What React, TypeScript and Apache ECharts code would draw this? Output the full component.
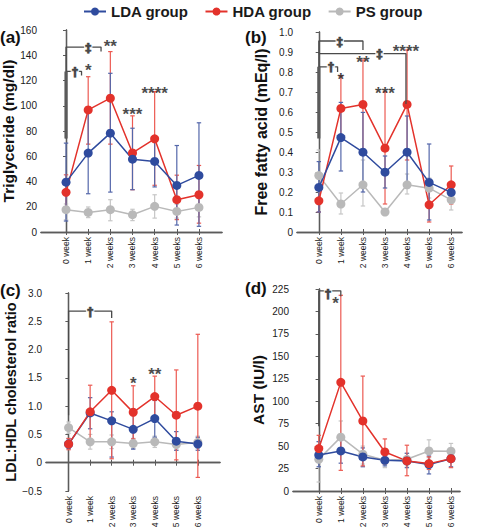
import React, { useEffect, useRef } from "react";
import * as echarts from "echarts";

const weeks = ["0 week", "1 week", "2 weeks", "3 weeks", "4 weeks", "5 weeks", "6 weeks"];
const weekIdx = [0, 1, 2, 3, 4, 5, 6];

// (a) Triglyceride (mg/dl)
const tgLDA = [39.5, 62.5, 78.3, 57.7, 55.9, 36.9, 44.8];
const tgLDALo = [8.7, 30.3, 31.6, 33.5, 35.7, 5.5, 4.5];
const tgLDAHi = [70.4, 94.5, 125.7, 82.2, 76, 68.5, 86.5];
const tgHDA = [31.4, 96.7, 106, 62.6, 73.8, 25.6, 29.5];
const tgHDALo = [17.5, 69.6, 69.6, 33.5, 37, 9.8, 7];
const tgHDAHi = [45.3, 123, 142.9, 92, 111.2, 45, 52.7];
const tgPS = [17.7, 15.5, 17.7, 13.7, 20.3, 16.3, 19.5];
const tgPSLo = [9.7, 11.4, 8.9, 9, 11, 11, 12];
const tgPSHi = [22.2, 19.8, 25.6, 18, 29.5, 22, 27];

// (b) Free fatty acid (mEq/l)
const ffaLDA = [0.223, 0.472, 0.399, 0.299, 0.399, 0.248, 0.198];
const ffaLDALo = [0.1, 0.305, 0.2, 0.22, 0.22, 0.06, 0.17];
const ffaLDAHi = [0.352, 0.648, 0.598, 0.38, 0.58, 0.44, 0.23];
const ffaHDA = [0.156, 0.618, 0.638, 0.419, 0.638, 0.136, 0.236];
const ffaHDALo = [0.1, 0.46, 0.41, 0.14, 0.36, 0.05, 0.14];
const ffaHDAHi = [0.21, 0.78, 0.86, 0.7, 0.91, 0.22, 0.33];
const ffaPS = [0.282, 0.14, 0.236, 0.1, 0.236, 0.219, 0.161];
const ffaPSLo = [0.15, 0.09, 0.13, 0.09, 0.19, 0.17, 0.11];
const ffaPSHi = [0.41, 0.195, 0.36, 0.11, 0.29, 0.27, 0.2];

// (c) LDL:HDL cholesterol ratio
const ldlLDA = [0.33, 0.88, 0.74, 0.59, 0.78, 0.38, 0.33];
const ldlLDALo = [0.25, 0.6, 0.1, 0.24, 0.45, 0.22, 0.22];
const ldlLDAHi = [0.42, 1.15, 0.9, 0.95, 1.1, 0.55, 0.45];
const ldlHDA = [0.33, 0.9, 1.28, 0.89, 1.17, 0.84, 1.0];
const ldlHDALo = [0.23, 0.42, 0.07, 0.42, 0.8, 0.05, -0.26];
const ldlHDAHi = [0.43, 1.37, 2.49, 1.36, 1.53, 1.64, 2.27];
const ldlPS = [0.62, 0.37, 0.37, 0.34, 0.37, 0.32, 0.36];
const ldlPSLo = [0.52, 0.24, 0.25, 0.25, 0.27, 0.22, 0.25];
const ldlPSHi = [0.72, 0.5, 0.49, 0.43, 0.47, 0.42, 0.47];

// (d) AST (IU/l)
const astLDA = [40, 44.6, 37.9, 34.2, 33.5, 29.4, 36];
const astLDALo = [27, 31, 27, 28, 26, 19, 27];
const astLDAHi = [55, 58, 48, 40, 42, 39, 45];
const astHDA = [47.2, 121, 78, 43.5, 33.5, 30.5, 36];
const astHDALo = [33, 23, 28, 30, 17, 24, 26];
const astHDAHi = [62, 218, 128, 58, 51, 38, 46];
const astPS = [35.3, 60, 41, 34.2, 35.3, 44.6, 44.3];
const astPSLo = [10, 42, 30, 26, 28, 37, 36];
const astPSHi = [55, 78, 50, 42, 42, 57, 53];

// significance brackets (x = week index, y = value)
const tgBrackets = [
  [[0, 74], [0, 146.5], [1.58, 146.5], [1.58, 143]],
  [[0, 127.2], [0.7, 127.2], [0.7, 124]],
];
const tgThick = [[[0, 74], [0, 127.2]]];
const tgNotes: [string, number, number][] = [
  ["‡", 1.0, 146.5], ["†", 0.4, 127.2], ["*", 1.0, 132], ["**", 2.0, 151],
  ["***", 3.0, 96.7], ["****", 4.0, 113.8],
];

const ffaBrackets = [
  [[0, 0.47], [0, 0.955], [2, 0.955], [2, 0.91]],
  [[0, 0.892], [3.95, 0.892], [3.95, 0.64]],
  [[0, 0.826], [0.85, 0.826], [0.85, 0.8]],
];
const ffaThick = [[[0, 0.468], [0, 0.826]]];
const ffaNotes: [string, number, number][] = [
  ["‡", 0.95, 0.955], ["‡", 2.75, 0.892], ["†", 0.55, 0.826], ["*", 1.0, 0.79],
  ["**", 2.0, 0.872], ["***", 3.0, 0.718], ["****", 3.95, 0.93],
];

const ldlBrackets = [[[0, 0.84], [0, 2.68], [2, 2.68], [2, 2.56]]];
const ldlThick: number[][][] = [];
const ldlNotes: [string, number, number][] = [
  ["†", 1.0, 2.68], ["*", 3.0, 1.49], ["**", 4.0, 1.65],
];

const astBrackets = [[[0, 72], [0, 223], [1, 223], [1, 217]]];
const astThick: number[][][] = [];
const astNotes: [string, number, number][] = [
  ["†", 0.42, 220], ["*", 0.76, 214.5],
];

const FONT = "Liberation Sans";
const AXIS_COLOR = "#5b5b5b";
const BLUE = "#2f4b9e";
const RED = "#e3322b";
const GRAY = "#b9b9b9";
const BLUE_ERR = "#5467aa";
const RED_ERR = "#ec5a52";
const GRAY_ERR = "#c6c6c6";

type Panel = {
  grid: { left: number; top: number; width: number; height: number };
  xMin: number; xMax: number;
  yMin: number; yMax: number; yInterval: number;
  yFmt: (v: number) => string;
  name: string; nameSize: number; nameGap: number;
  groups: { name: string; color: string; err: string; v: number[]; lo: number[]; hi: number[] }[];
  brackets: number[][][]; thick: number[][][];
  notes: [string, number, number][];
};

const fmt1 = (v: number) => {
  if (Math.abs(v) < 1e-9) return "0";
  return (v < 0 ? "−" : "") + Math.abs(v).toFixed(1);
};

const panels: Panel[] = [
  {
    grid: { left: 41, top: 30, width: 181, height: 202 },
    xMin: -1.13, xMax: 7.04, yMin: 0, yMax: 160, yInterval: 20,
    yFmt: (v) => String(Math.round(v)),
    name: "Triglyceride (mg/dl)", nameSize: 15.5, nameGap: 21,
    groups: [
      { name: "PS group", color: GRAY, err: GRAY_ERR, v: tgPS, lo: tgPSLo, hi: tgPSHi },
      { name: "HDA group", color: RED, err: RED_ERR, v: tgHDA, lo: tgHDALo, hi: tgHDAHi },
      { name: "LDA group", color: BLUE, err: BLUE_ERR, v: tgLDA, lo: tgLDALo, hi: tgLDAHi },
    ],
    brackets: tgBrackets, thick: tgThick, notes: tgNotes,
  },
  {
    grid: { left: 297, top: 32, width: 165, height: 200 },
    xMin: -0.99, xMax: 6.49, yMin: 0, yMax: 1.0, yInterval: 0.1,
    yFmt: fmt1,
    name: "Free fatty acid (mEq/l)", nameSize: 16, nameGap: 28,
    groups: [
      { name: "PS group", color: GRAY, err: GRAY_ERR, v: ffaPS, lo: ffaPSLo, hi: ffaPSHi },
      { name: "HDA group", color: RED, err: RED_ERR, v: ffaHDA, lo: ffaHDALo, hi: ffaHDAHi },
      { name: "LDA group", color: BLUE, err: BLUE_ERR, v: ffaLDA, lo: ffaLDALo, hi: ffaLDAHi },
    ],
    brackets: ffaBrackets, thick: ffaThick, notes: ffaNotes,
  },
  {
    grid: { left: 46, top: 293, width: 174, height: 198 },
    xMin: -1.05, xMax: 7.03, yMin: -0.5, yMax: 3.0, yInterval: 0.5,
    yFmt: fmt1,
    name: "LDL:HDL cholesterol ratio", nameSize: 14.5, nameGap: 26,
    groups: [
      { name: "PS group", color: GRAY, err: GRAY_ERR, v: ldlPS, lo: ldlPSLo, hi: ldlPSHi },
      { name: "LDA group", color: BLUE, err: BLUE_ERR, v: ldlLDA, lo: ldlLDALo, hi: ldlLDAHi },
      { name: "HDA group", color: RED, err: RED_ERR, v: ldlHDA, lo: ldlHDALo, hi: ldlHDAHi },
    ],
    brackets: ldlBrackets, thick: ldlThick, notes: ldlNotes,
  },
  {
    grid: { left: 293, top: 289, width: 167, height: 202 },
    xMin: -1.17, xMax: 6.41, yMin: 0, yMax: 225, yInterval: 25,
    yFmt: (v) => String(Math.round(v)),
    name: "AST (IU/l)", nameSize: 15.5, nameGap: 27,
    groups: [
      { name: "PS group", color: GRAY, err: GRAY_ERR, v: astPS, lo: astPSLo, hi: astPSHi },
      { name: "LDA group", color: BLUE, err: BLUE_ERR, v: astLDA, lo: astLDALo, hi: astLDAHi },
      { name: "HDA group", color: RED, err: RED_ERR, v: astHDA, lo: astHDALo, hi: astHDAHi },
    ],
    brackets: astBrackets, thick: astThick, notes: astNotes,
  },
];

function noteSeries(notes: [string, number, number][], star: boolean, xi: number, yi: number) {
  return {
    type: "scatter", name: star ? "stars" : "daggers", xAxisIndex: xi, yAxisIndex: yi, z: 5,
    symbolSize: 1, itemStyle: { color: "rgba(255,255,255,0)" },
    silent: true,
    label: {
      show: true, position: "inside",
      formatter: (p: any) => p.name,
      fontFamily: star ? FONT : "DejaVu Sans", fontWeight: "bold",
      fontSize: star ? 17 : 13, color: "#1a1a1a",
      textBorderWidth: star ? 0 : 0.4, textBorderColor: star ? "transparent" : "#1a1a1a",
      offset: star ? [0, 5] : [0, 0],
      backgroundColor: star ? "transparent" : "#ffffff",
      padding: star ? 0 : [0, 1],
    },
    data: notes
      .filter(([t]) => t.startsWith("*") === star)
      .map(([t, x, y]) => ({ value: [x, y], name: t })),
  };
}

function buildOption() {
  const grid: any[] = [];
  const xAxis: any[] = [];
  const yAxis: any[] = [];
  const series: any[] = [];

  panels.forEach((p, i) => {
    grid.push({ ...p.grid, outerBoundsMode: "none", containLabel: false });
    const axLine = { show: true, lineStyle: { color: AXIS_COLOR, width: 1.3 } };
    xAxis.push({
      type: "value", gridIndex: i, position: "bottom", min: p.xMin, max: p.xMax,
      axisLine: axLine, splitLine: { show: false },
      axisTick: { show: true, inside: true, length: 3, customValues: weekIdx, lineStyle: { color: AXIS_COLOR } },
      axisLabel: {
        customValues: weekIdx, rotate: 90, margin: 5,
        formatter: (v: number) => weeks[Math.round(v)] ?? "",
        fontFamily: FONT, fontSize: 8.5, color: "#1a1a1a",
      },
    });
    xAxis.push({
      type: "value", gridIndex: i, position: "top", min: p.xMin, max: p.xMax,
      axisLine: axLine, splitLine: { show: false },
      axisTick: { show: true, inside: true, length: 3, customValues: weekIdx, lineStyle: { color: AXIS_COLOR } },
      axisLabel: { show: false },
    });
    yAxis.push({
      type: "value", gridIndex: i, position: "left", min: p.yMin, max: p.yMax, interval: p.yInterval,
      axisLine: axLine, splitLine: { show: false },
      axisTick: { show: true, inside: false, length: 3, lineStyle: { color: AXIS_COLOR } },
      axisLabel: { formatter: p.yFmt, fontFamily: FONT, fontSize: 10, color: "#1a1a1a", margin: 4 },
      name: p.name, nameLocation: "middle", nameGap: p.nameGap, nameRotate: 90,
      nameTextStyle: { fontFamily: FONT, fontWeight: "bold", fontSize: p.nameSize, color: "#111" },
    });
    yAxis.push({
      type: "value", gridIndex: i, position: "right", min: p.yMin, max: p.yMax, interval: p.yInterval,
      axisLine: axLine, splitLine: { show: false },
      axisTick: { show: true, inside: true, length: 3, lineStyle: { color: AXIS_COLOR } },
      axisLabel: { show: false },
    });
    const xi = i * 2;
    const yi = i * 2;

    // error bars
    p.groups.forEach((g) => {
      series.push({
        type: "custom", name: g.name + " err", xAxisIndex: xi, yAxisIndex: yi, z: 2,
        encode: { x: 0, y: [1, 2] },
        data: weekIdx.map((w, k) => [w, g.lo[k], g.hi[k]]),
        renderItem: (_params: any, api: any) => {
          const x = api.value(0);
          const lo = api.coord([x, api.value(1)]);
          const hi = api.coord([x, api.value(2)]);
          const cap = 2.2;
          const style = { stroke: g.err, lineWidth: 1.2 };
          return {
            type: "group",
            children: [
              { type: "line", shape: { x1: lo[0], y1: lo[1], x2: hi[0], y2: hi[1] }, style },
              { type: "line", shape: { x1: lo[0] - cap, y1: lo[1], x2: lo[0] + cap, y2: lo[1] }, style },
              { type: "line", shape: { x1: hi[0] - cap, y1: hi[1], x2: hi[0] + cap, y2: hi[1] }, style },
            ],
          };
        },
      });
    });
    // lines
    p.groups.forEach((g) => {
      series.push({
        type: "line", name: g.name, xAxisIndex: xi, yAxisIndex: yi, z: 3,
        data: weekIdx.map((w, k) => [w, g.v[k]]),
        symbol: "circle", symbolSize: 9, color: g.color,
        itemStyle: { color: g.color },
        lineStyle: { color: g.color, width: 1.5 },
      });
    });
    // brackets
    p.brackets.forEach((b) => {
      series.push({
        type: "line", name: "bracket", xAxisIndex: xi, yAxisIndex: yi, z: 4, silent: true,
        data: b, symbol: "none", lineStyle: { color: "#4a4a4a", width: 1.3 },
      });
    });
    p.thick.forEach((b) => {
      series.push({
        type: "line", name: "bracket", xAxisIndex: xi, yAxisIndex: yi, z: 4, silent: true,
        data: b, symbol: "none", lineStyle: { color: "#5a5a5a", width: 3.2 },
      });
    });
    series.push(noteSeries(p.notes, false, xi, yi));
    series.push(noteSeries(p.notes, true, xi, yi));
  });

  return {
    animation: false,
    backgroundColor: "#ffffff",
    legend: {
      data: ["LDA group", "HDA group", "PS group"],
      left: 78, top: -1, itemWidth: 22, itemHeight: 10, itemGap: 16,
      textStyle: { fontFamily: FONT, fontWeight: "bold", fontSize: 15, color: "#1a1a1a" },
    },
    graphic: [
      { type: "text", left: 0, top: 29, style: { text: "(a)", font: `bold 17px ${FONT}`, fill: "#111" } },
      { type: "text", left: 245, top: 29, style: { text: "(b)", font: `bold 17px ${FONT}`, fill: "#111" } },
      { type: "text", left: 0, top: 282, style: { text: "(c)", font: `bold 17px ${FONT}`, fill: "#111" } },
      { type: "text", left: 245, top: 280, style: { text: "(d)", font: `bold 17px ${FONT}`, fill: "#111" } },
    ],
    grid, xAxis, yAxis, series,
  };
}

export default function App() {
  const ref = useRef<HTMLDivElement>(null);
  useEffect(() => {
    if (!ref.current) return;
    const chart = echarts.init(ref.current, undefined, { renderer: "svg" });
    chart.setOption(buildOption() as any);
    return () => chart.dispose();
  }, []);
  return (
    <div
      ref={ref}
      style={{ position: "absolute", left: 0, top: 0, width: 480, height: 531, background: "#fff" }}
    />
  );
}
